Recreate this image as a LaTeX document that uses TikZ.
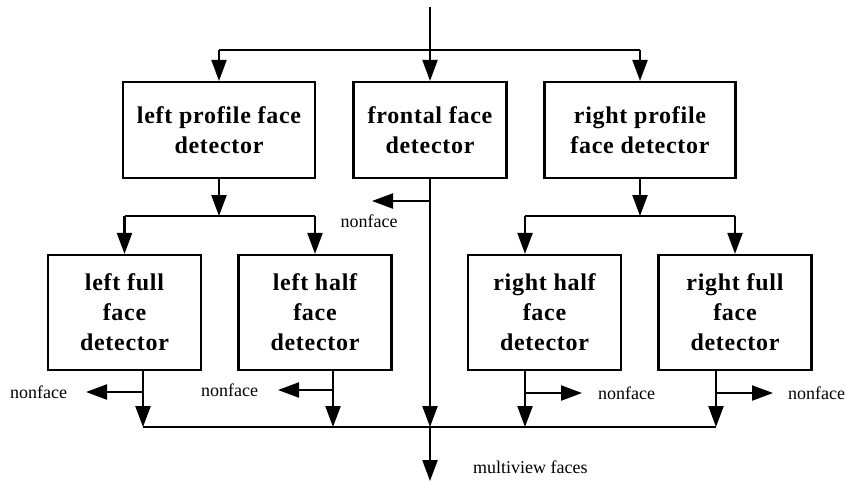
\documentclass[tikz,border=0pt]{standalone}
\usepackage{fontspec}
\setmainfont{Liberation Serif}
\usetikzlibrary{arrows.meta}
\begin{document}
\begin{tikzpicture}[x=1pt,y=-1pt,
  line/.style={line width=2.2pt},
  arr/.style={line width=2.2pt,-{Triangle[length=21pt,width=15pt]}},
  box/.style={draw,line width=2.2pt,align=center,inner sep=0pt,
    font=\fontsize{24}{30}\selectfont\bfseries\addfontfeatures{LetterSpace=3}},
  upbox/.style={box,minimum height=96pt},
  lowbox/.style={box,minimum height=115pt,minimum width=153pt},
  lbl/.style={font=\fontsize{18}{20}\selectfont,inner sep=0pt}]
\useasboundingbox (0,0) rectangle (846,483);
% boxes
\node[upbox,minimum width=192pt] (lp) at (219,130) {left profile face\\detector};
\node[upbox,minimum width=153pt] (ff) at (430,130) {frontal face\\detector};
\node[upbox,minimum width=191pt] (rp) at (640,130) {right profile\\face detector};
\node[lowbox] (lf) at (124.5,312.5) {left full\\face\\detector};
\node[lowbox] (lh) at (315,312.5) {left half\\face\\detector};
\node[lowbox] (rh) at (544.5,312.5) {right half\\face\\detector};
\node[lowbox] (rf) at (735,312.5) {right full\\face\\detector};
% top distribution
\coordinate (in) at (430,7);
\coordinate (top) at (430,50);
\coordinate (tl) at (219,50);
\coordinate (tr) at (640,50);
\draw[line] (in) -- (top);
\draw[line] (tl) -- (tr);
\draw[arr] (tl) -- (lp.north);
\draw[arr] (top) -- (ff.north);
\draw[arr] (tr) -- (rp.north);
% left split
\coordinate (ml) at (219,216);
\coordinate (mll) at (124.5,216);
\coordinate (mlr) at (315,216);
\draw[arr] (lp.south) -- (ml);
\draw[line] (mll) -- (mlr);
\draw[arr] (mll) -- (lf.north);
\draw[arr] (mlr) -- (lh.north);
% right split
\coordinate (mr) at (640,216);
\coordinate (mrl) at (525,216);
\coordinate (mrr) at (735,216);
\draw[arr] (rp.south) -- (mr);
\draw[line] (mrl) -- (mrr);
\draw[arr] (mrl) -- (mrl |- rh.north);
\draw[arr] (mrr) -- (rf.north);
% bottom collection
\coordinate (b1) at (143,427);
\coordinate (b2) at (333,427);
\coordinate (bc) at (430,427);
\coordinate (b3) at (525,427);
\coordinate (b4) at (716,427);
\coordinate (out) at (430,481);
\draw[arr] (ff.south) -- (bc);
\draw[arr] (b1 |- lf.south) -- (b1);
\draw[arr] (b2 |- lh.south) -- (b2);
\draw[arr] (b3 |- rh.south) -- (b3);
\draw[arr] (b4 |- rf.south) -- (b4);
\draw[line] (b1) -- (b4);
\draw[arr] (bc) -- (out);
\node[lbl,anchor=west] (mv) at (473,467) {multiview faces};
% nonface branches
\coordinate (f0) at (430,201);
\coordinate (f0e) at (372,201);
\draw[arr] (f0) -- (f0e);
\node[lbl] (nf0) at (369,221) {nonface};
\coordinate (f1) at (143,392);
\coordinate (f1e) at (86,392);
\draw[arr] (f1) -- (f1e);
\node[lbl,anchor=west] (nf1) at (10,392) {nonface};
\coordinate (f2) at (333,390);
\coordinate (f2e) at (278,390);
\draw[arr] (f2) -- (f2e);
\node[lbl,anchor=west] (nf2) at (201,390) {nonface};
\coordinate (f3) at (525,393);
\coordinate (f3e) at (582,393);
\draw[arr] (f3) -- (f3e);
\node[lbl,anchor=west] (nf3) at (598,393) {nonface};
\coordinate (f4) at (716,393);
\coordinate (f4e) at (773,393);
\draw[arr] (f4) -- (f4e);
\node[lbl,anchor=west] (nf4) at (788,393) {nonface};
\end{tikzpicture}
\end{document}
